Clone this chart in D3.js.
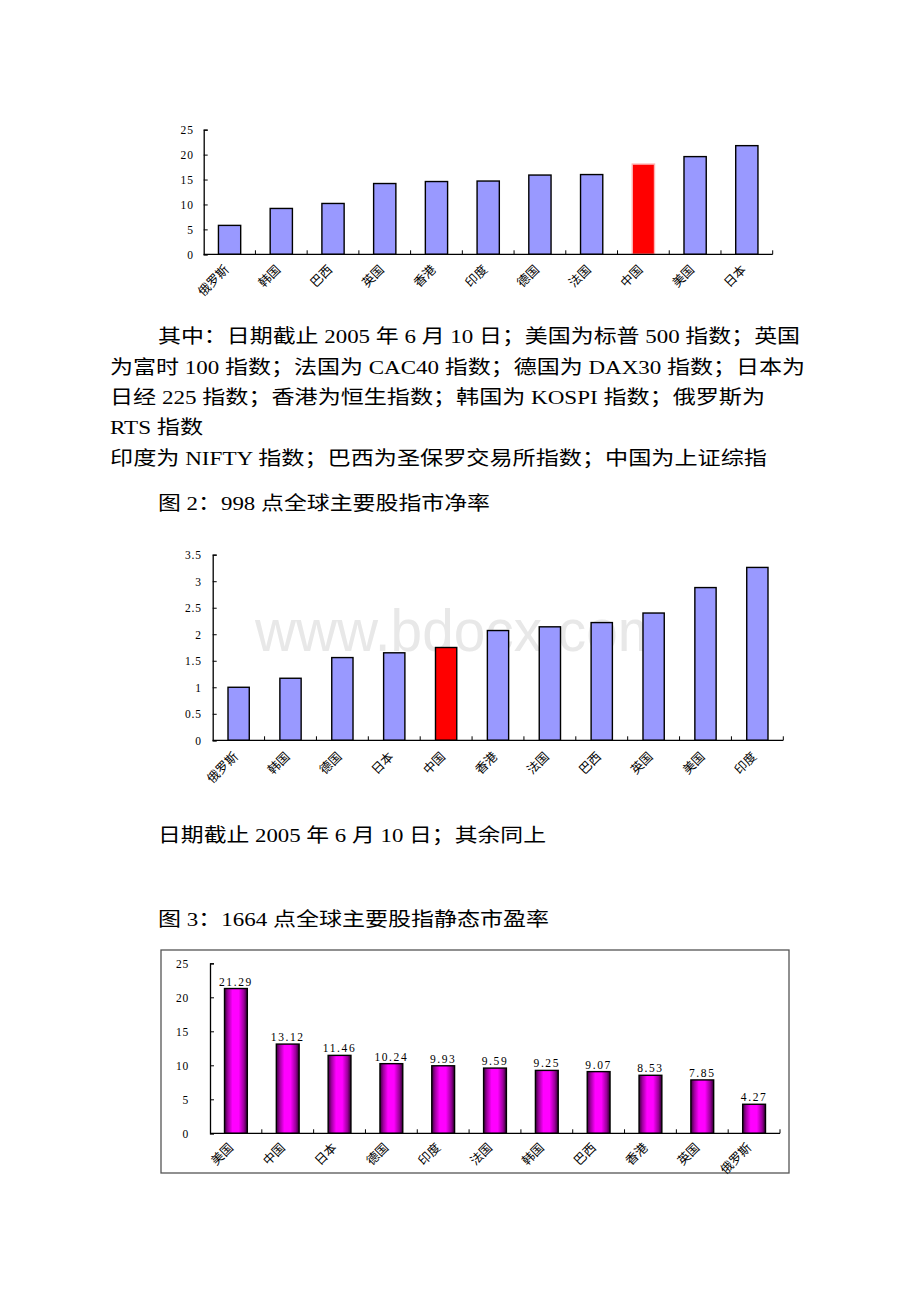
<!DOCTYPE html>
<html>
<head>
<meta charset="utf-8">
<script src="https://cdn.jsdelivr.net/npm/d3@7"></script>
<style>
  body { margin: 0; background: #ffffff; }
  .tick-label { font-family: "Liberation Serif", "Times New Roman", serif; font-size: 11.5px; letter-spacing: 0.8px; fill: #000; }
  .val-label { font-family: "Liberation Serif", "Times New Roman", serif; font-size: 11.5px; letter-spacing: 1.6px; fill: #000; }
  .cat-label { font-family: "Noto Sans CJK SC", sans-serif; font-size: 12.5px; fill: #000; }
  .para { font-family: "Liberation Serif", "Noto Sans CJK SC", serif; font-size: 19.5px; fill: #000; }
</style>
</head>
<body>
<div id="page"></div>
<script>
// Figure 1: P/E ratios (top chart)
var c1_cats = ["俄罗斯", "韩国", "巴西", "英国", "香港", "印度", "德国", "法国", "中国", "美国", "日本"];
var c1_vals = [5.8, 9.2, 10.2, 14.2, 14.6, 14.7, 15.9, 16.0, 18.1, 19.6, 21.8];
var c1_ticks = [0, 5, 10, 15, 20, 25];

// Figure 2: price to book
var c2_cats = ["俄罗斯", "韩国", "德国", "日本", "中国", "香港", "法国", "巴西", "英国", "美国", "印度"];
var c2_vals = [1.0, 1.17, 1.56, 1.65, 1.75, 2.07, 2.14, 2.22, 2.4, 2.88, 3.26];
var c2_ticks = [0, 0.5, 1, 1.5, 2, 2.5, 3, 3.5];

// Figure 3: static P/E
var c3_cats = ["美国", "中国", "日本", "德国", "印度", "法国", "韩国", "巴西", "香港", "英国", "俄罗斯"];
var c3_vals = [21.29, 13.12, 11.46, 10.24, 9.93, 9.59, 9.25, 9.07, 8.53, 7.85, 4.27];
var c3_ticks = [0, 5, 10, 15, 20, 25];

var highlight = "中国";

// Paragraph lines: [text, x, baseline y, width]
var para_lines = [
  ["其中：日期截止 2005 年 6 月 10 日；美国为标普 500 指数；英国", 158, 343, 642],
  ["为富时 100 指数；法国为 CAC40 指数；德国为 DAX30 指数；日本为", 110, 374, 695],
  ["日经 225 指数；香港为恒生指数；韩国为 KOSPI 指数；俄罗斯为", 110, 404, 655],
  ["RTS 指数", 110, 434, 93],
  ["印度为 NIFTY 指数；巴西为圣保罗交易所指数；中国为上证综指", 110, 465, 657],
  ["图 2：998 点全球主要股指市净率", 158, 510, 332],
  ["日期截止 2005 年 6 月 10 日；其余同上", 158, 842, 388],
  ["图 3：1664 点全球主要股指静态市盈率", 158, 926, 391]
];

var W = 920, H = 1302;

var svg = d3
  .select("#page")
  .append("svg")
  .attr("width", W)
  .attr("height", H)
  .attr("viewBox", [0, 0, W, H]);

svg.append("rect").attr("width", W).attr("height", H).attr("fill", "#ffffff");

// Gradient for the cylinder-like bars in figure 3
var defs = svg.append("defs");
var grad = defs.append("linearGradient").attr("id", "bar-grad");
[
  [0, "#3a003a"],
  [0.15, "#a000a0"],
  [0.35, "#ff00ff"],
  [0.62, "#ff00ff"],
  [0.85, "#9a009a"],
  [1, "#2a002a"]
].forEach(function (s) {
  grad.append("stop").attr("offset", s[0]).attr("stop-color", s[1]);
});

// Paragraph text
svg
  .selectAll(".para")
  .data(para_lines)
  .enter()
  .append("text")
  .attr("class", "para")
  .attr("x", (d) => d[1])
  .attr("y", (d) => d[2])
  .attr("textLength", (d) => d[3])
  .attr("lengthAdjust", "spacingAndGlyphs")
  .text((d) => d[0]);

// Figure 3 frame
svg
  .append("rect")
  .attr("x", 161)
  .attr("y", 950)
  .attr("width", 628)
  .attr("height", 223)
  .attr("fill", "none")
  .attr("stroke", "#555")
  .attr("stroke-width", 1.3);

// Watermark behind figure 2
svg
  .append("text")
  .attr("x", 255)
  .attr("y", 651)
  .attr("textLength", 410)
  .attr("lengthAdjust", "spacingAndGlyphs")
  .style("font-family", "Liberation Sans, Arial, sans-serif")
  .style("font-size", "60px")
  .attr("fill", "#e8e8e8")
  .text("www.bdocx.com");

function draw_chart(cfg) {
  var g = svg.append("g");

  var x = d3.scaleBand().domain(cfg.cats).range([cfg.x0, cfg.x1]).padding(0);
  var y = d3.scaleLinear().domain([0, cfg.max]).range([cfg.base, cfg.top]);
  var bw = x.bandwidth() * cfg.barFrac;

  // Bars
  g.selectAll(".bar")
    .data(cfg.cats)
    .enter()
    .append("rect")
    .attr("x", (d) => x(d) + (x.bandwidth() - bw) / 2)
    .attr("y", (d, i) => y(cfg.vals[i]))
    .attr("width", bw)
    .attr("height", (d, i) => cfg.base - y(cfg.vals[i]))
    .attr("fill", (d) => cfg.fill(d))
    .attr("stroke", (d) => cfg.stroke(d))
    .attr("stroke-width", 1.4);

  // Y axis (ticks point inward)
  var yAxis = d3
    .axisRight(y)
    .tickValues(cfg.ticks)
    .tickSize(4)
    .tickFormat(cfg.fmt);
  var ya = g.append("g").attr("transform", "translate(" + cfg.x0 + ",0)").call(yAxis);
  ya.attr("font-family", null).attr("font-size", null);
  ya.select(".domain").attr("stroke", "#000").attr("stroke-width", 1.3);
  ya.selectAll(".tick line").attr("stroke", "#000");
  ya.selectAll(".tick text")
    .attr("class", "tick-label")
    .attr("x", -cfg.labelGap)
    .attr("text-anchor", "end")
    .attr("dy", "0.35em");

  // X axis with category boundary ticks pointing up
  var bounds = cfg.cats.map((d) => x(d)).concat([cfg.x1]).slice(1);
  g.append("line")
    .attr("x1", cfg.x0)
    .attr("x2", cfg.x1)
    .attr("y1", cfg.base)
    .attr("y2", cfg.base)
    .attr("stroke", "#000")
    .attr("stroke-width", 1.3);
  g.selectAll(".xtick")
    .data(bounds)
    .enter()
    .append("line")
    .attr("x1", (d) => d)
    .attr("x2", (d) => d)
    .attr("y1", cfg.base)
    .attr("y2", cfg.base - 4)
    .attr("stroke", "#000");

  // Category labels rotated -45
  g.selectAll(".cat-label")
    .data(cfg.cats)
    .enter()
    .append("text")
    .attr("class", "cat-label")
    .attr("text-anchor", "end")
    .attr("transform", function (d) {
      var cx = x(d) + x.bandwidth() / 2 + cfg.catDx;
      var cy = cfg.base + cfg.catDy;
      return "translate(" + cx + "," + cy + ") rotate(-45)";
    })
    .attr("dy", "0.35em")
    .text((d) => d);

  // Value labels
  if (cfg.valueLabels) {
    g.selectAll(".val-label")
      .data(cfg.cats)
      .enter()
      .append("text")
      .attr("class", "val-label")
      .attr("text-anchor", "middle")
      .attr("x", (d) => x(d) + x.bandwidth() / 2)
      .attr("y", (d, i) => y(cfg.vals[i]) - 3)
      .text((d, i) => d3.format(".2f")(cfg.vals[i]));
  }
}

draw_chart({
  cats: c1_cats,
  vals: c1_vals,
  ticks: c1_ticks,
  max: 25,
  x0: 203.7,
  x1: 772.7,
  base: 254.3,
  top: 129.7,
  barFrac: 0.43,
  labelGap: 10,
  catDx: -3,
  catDy: 13,
  fmt: d3.format("d"),
  fill: (d) => (d === highlight ? "#ff0000" : "#9999ff"),
  stroke: (d) => (d === highlight ? "#ffb3b3" : "#000000")
});

draw_chart({
  cats: c2_cats,
  vals: c2_vals,
  ticks: c2_ticks,
  max: 3.5,
  x0: 212.7,
  x1: 783.3,
  base: 740.3,
  top: 554.7,
  barFrac: 0.41,
  labelGap: 11,
  catDx: -3,
  catDy: 14,
  fmt: (d) => String(d),
  fill: (d) => (d === highlight ? "#ff0000" : "#9999ff"),
  stroke: () => "#000000"
});

draw_chart({
  cats: c3_cats,
  vals: c3_vals,
  ticks: c3_ticks,
  max: 25,
  x0: 210,
  x1: 780,
  base: 1133.3,
  top: 963.3,
  barFrac: 0.44,
  labelGap: 21,
  catDx: -5,
  catDy: 12,
  fmt: d3.format("d"),
  fill: () => "url(#bar-grad)",
  stroke: () => "#000000",
  valueLabels: true
});
</script>
</body>
</html>
